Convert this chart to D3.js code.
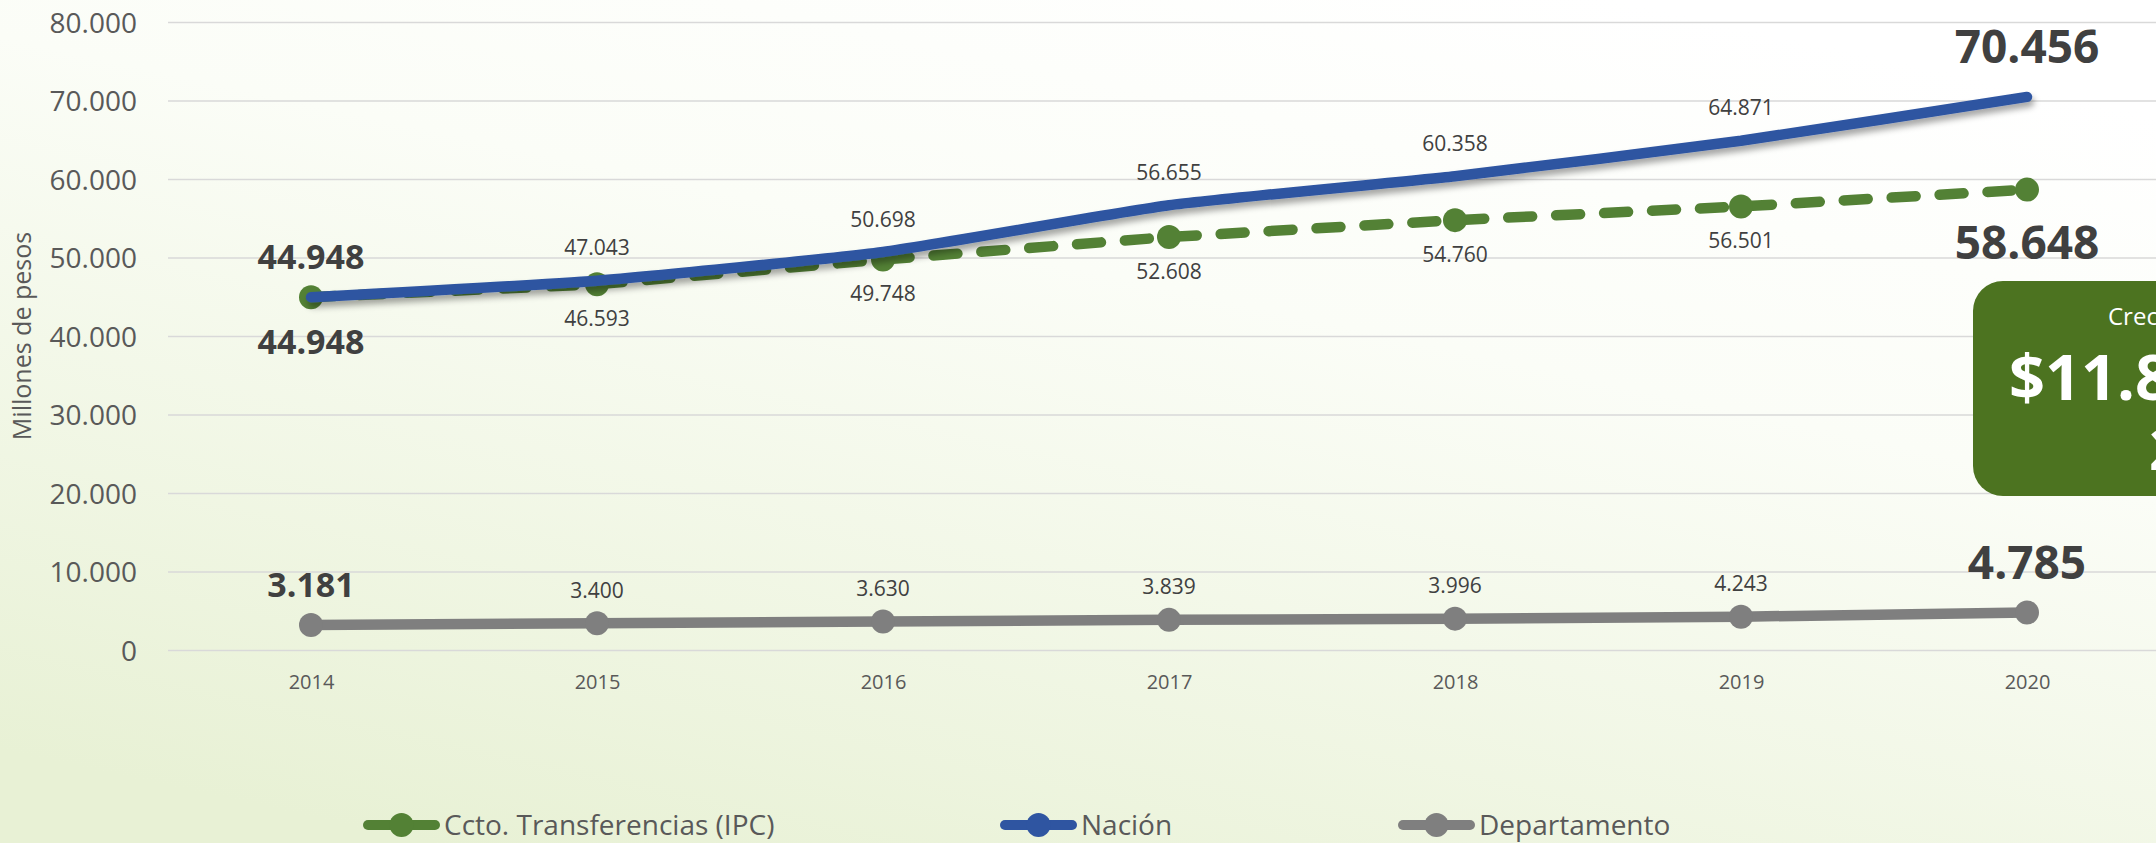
<!DOCTYPE html>
<html>
<head>
<meta charset="utf-8">
<script src="https://cdn.jsdelivr.net/npm/d3@7"></script>
<style>
  html, body { margin: 0; padding: 0; overflow: hidden; background: #fff; }
  svg { display: block; }
  text { font-family: "Open Sans", "Noto Sans", sans-serif; }
</style>
</head>
<body>
<svg id="chart" width="2156" height="843"></svg>
<script>
// ---- Data ----
const years = ["2014", "2015", "2016", "2017", "2018", "2019", "2020"];
const cctoValues = [44948, 46593, 49748, 52608, 54760, 56501, 58648];
const nacionValues = [44948, 47043, 50698, 56655, 60358, 64871, 70456];
const deptoValues = [3181, 3400, 3630, 3839, 3996, 4243, 4785];
const seriesNames = ["Ccto. Transferencias (IPC)", "Nación", "Departamento"];
const yTickValues = [0, 10000, 20000, 30000, 40000, 50000, 60000, 70000, 80000];
const yAxisTitle = "Millones de pesos";
const boxLines = ["Crecimiento", "$11.808", "20,1%"];

// ---- Setup ----
const W = 2156, H = 843;
const svg = d3.select("#chart");
const loc = d3.formatLocale({ decimal: ",", thousands: ".", grouping: [3], currency: ["$", ""] });
const fmt = loc.format(",d");

const plotLeft = 168, plotRight = 2170, plotTop = 22, plotBottom = 650;
const x = d3.scalePoint().domain(years).range([plotLeft, plotRight]).padding(0.5);
const y = d3.scaleLinear().domain([0, 80000]).range([plotBottom, plotTop]);

// ---- Background gradient ----
const defs = svg.append("defs");
const grad = defs.append("linearGradient").attr("id", "bg")
  .attr("x1", "0.75").attr("y1", "0").attr("x2", "0.2").attr("y2", "1");
grad.append("stop").attr("offset", "0").attr("stop-color", "#ffffff");
grad.append("stop").attr("offset", "0.35").attr("stop-color", "#fbfdf7");
grad.append("stop").attr("offset", "1").attr("stop-color", "#e8f1d5");
svg.append("rect").attr("width", W).attr("height", H).attr("fill", "url(#bg)");

const shadow = defs.append("filter").attr("id", "shadow")
  .attr("x", "-5%").attr("y", "-50%").attr("width", "110%").attr("height", "200%");
shadow.append("feDropShadow").attr("dx", 2).attr("dy", 5).attr("stdDeviation", 3)
  .attr("flood-color", "#000").attr("flood-opacity", 0.35);

// ---- Y axis + gridlines ----
const yAxis = svg.append("g").attr("transform", `translate(${plotLeft},0)`)
  .call(d3.axisLeft(y).tickValues(yTickValues).tickFormat(fmt)
    .tickSize(-(W - plotLeft)).tickPadding(31));
yAxis.select(".domain").remove();
yAxis.selectAll(".tick line").attr("stroke", "#d9d9d9").attr("stroke-width", 1.5);
yAxis.selectAll(".tick text").attr("fill", "#595959").attr("font-size", 28)
  .attr("dy", "0.357em");

// y title
svg.append("text")
  .attr("transform", `translate(31,${(plotTop + plotBottom) / 2}) rotate(-90)`)
  .attr("text-anchor", "middle").attr("fill", "#595959").attr("font-size", 25)
  .text(yAxisTitle);

// ---- X axis ----
const xAxis = svg.append("g").attr("transform", `translate(0,${plotBottom})`)
  .call(d3.axisBottom(x).tickSize(0).tickPadding(25));
xAxis.select(".domain").remove();
xAxis.selectAll(".tick text").attr("fill", "#595959").attr("font-size", 20);

// ---- Green box ----
const box = svg.append("g");
box.append("rect").attr("x", 1973).attr("y", 281).attr("width", 400).attr("height", 215)
  .attr("rx", 30).attr("fill", "#4c7320");
box.append("text").attr("x", 2108).attr("y", 325).attr("fill", "#fff").attr("font-size", 24).text(boxLines[0]);
box.append("text").attr("x", 2009).attr("y", 400).attr("fill", "#fff").attr("font-size", 63)
  .attr("font-weight", 700).text(boxLines[1]);
box.append("text").attr("x", 2149).attr("y", 470).attr("fill", "#fff").attr("font-size", 58)
  .attr("font-weight", 700).text(boxLines[2]);

// ---- Series ----
const series = [
  { name: seriesNames[0], values: cctoValues, color: "#538135", dash: "24 24", markers: true, curve: d3.curveLinear, labelPos: "below", shadow: false },
  { name: seriesNames[1], values: nacionValues, color: "#2f55a1", dash: null, markers: false, curve: d3.curveCardinal.tension(0.5), labelPos: "above", shadow: true },
  { name: seriesNames[2], values: deptoValues, color: "#7f7f7f", dash: null, markers: true, curve: d3.curveLinear, labelPos: "above", shadow: false }
];

const marksG = svg.append("g");
series.forEach(s => {
  const pts = years.map((yr, i) => ({ yr, v: s.values[i] }));
  const line = d3.line().x(d => x(d.yr)).y(d => y(d.v)).curve(s.curve);
  const g = marksG.append("g");
  const path = g.append("path").datum(pts).attr("d", line)
    .attr("fill", "none").attr("stroke", s.color).attr("stroke-width", 10.5)
    .attr("stroke-linecap", "round").attr("stroke-linejoin", "round");
  if (s.dash) path.attr("stroke-dasharray", s.dash);
  if (s.shadow) path.attr("filter", "url(#shadow)");
  if (s.markers) {
    g.selectAll("circle").data(pts).join("circle")
      .attr("cx", d => x(d.yr)).attr("cy", d => y(d.v)).attr("r", 12).attr("fill", s.color);
  }
});

// ---- Data labels ----
const labelsG = svg.append("g");
series.forEach(s => {
  years.forEach((yr, i) => {
    const v = s.values[i];
    const first = i === 0, last = i === years.length - 1;
    let size = 21, weight = 400, off;
    if (first) { size = 34; weight = 700; }
    if (last) { size = 46; weight = 700; }
    const above = s.labelPos === "above";
    if (size === 21) off = above ? -33 : 34;
    else if (size === 34) off = above ? -40 : 45;
    else off = above ? -50 : 53;
    labelsG.append("text")
      .attr("x", x(yr)).attr("y", y(v) + off + 0.357 * size)
      .attr("text-anchor", "middle").attr("fill", "#404040")
      .attr("font-size", size).attr("font-weight", weight)
      .text(fmt(v));
  });
});

// ---- Legend ----
const legendX = [363, 1000, 1398];
const legendY = 825;
const legend = svg.append("g");
series.forEach((s, i) => {
  const g = legend.append("g").attr("transform", `translate(${legendX[i]},${legendY})`);
  g.append("line").attr("x1", 5).attr("x2", 72).attr("y1", 0).attr("y2", 0)
    .attr("stroke", s.color).attr("stroke-width", 10).attr("stroke-linecap", "round");
  g.append("circle").attr("cx", 38.5).attr("cy", 0).attr("r", 12).attr("fill", s.color);
  g.append("text").attr("x", 81).attr("y", 10).attr("fill", "#595959").attr("font-size", 28)
    .text(s.name);
});
</script>
</body>
</html>
